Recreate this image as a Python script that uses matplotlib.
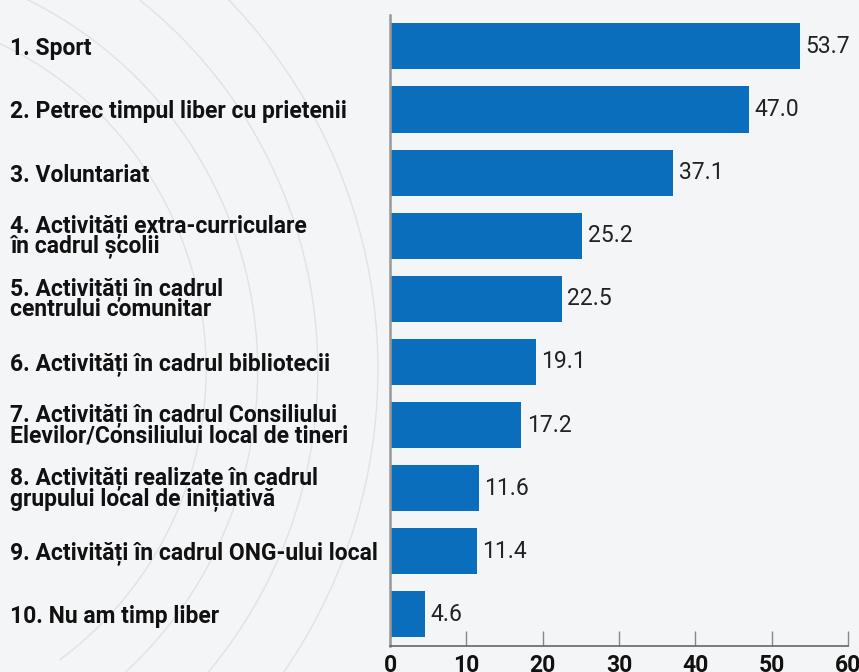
import matplotlib.pyplot as plt
from matplotlib.patches import Arc
from matplotlib.transforms import ScaledTranslation

plt.rcParams['font.family'] = ['Roboto', 'DejaVu Sans']

labels = [
    "1. Sport",
    "2. Petrec timpul liber cu prietenii",
    "3. Voluntariat",
    "4. Activități extra-curriculare\nîn cadrul școlii",
    "5. Activități în cadrul\ncentrului comunitar",
    "6. Activități în cadrul bibliotecii",
    "7. Activități în cadrul Consiliului\nElevilor/Consiliului local de tineri",
    "8. Activități realizate în cadrul\ngrupului local de inițiativă",
    "9. Activități în cadrul ONG-ului local",
    "10. Nu am timp liber",
]
values = [53.7, 47.0, 37.1, 25.2, 22.5, 19.1, 17.2, 11.6, 11.4, 4.6]
xticks = [0, 10, 20, 30, 40, 50, 60]

fig = plt.figure(figsize=(8.59, 6.72), dpi=100)
fig.patch.set_facecolor('#f4f5f7')

# faint background arcs on the left side
aspect = 8.59 / 6.72
for r in [0.42, 0.48, 0.55, 0.62]:
    arc = Arc((-0.18, 0.45), 2 * r, 2 * r * aspect, theta1=-60, theta2=80,
              transform=fig.transFigure, edgecolor='#e0e2e6', lw=1.0, zorder=0)
    fig.patches.append(arc)

ax = fig.add_axes([0.454, 0.0387, 0.533, 0.9393])
ax.set_facecolor('none')
ax.set_zorder(2)

y = list(range(len(values)))
ax.barh(y, values, height=0.73, color='#0a6ebd')
ax.set_ylim(len(values) - 0.5, -0.5)
ax.set_xlim(0, 60)

for yi, v in zip(y, values):
    ax.annotate(f"{v:.1f}", (v, yi), xytext=(4, 0), textcoords='offset points',
                va='center', ha='left', fontsize=16.5, color='#222222')

ax.set_yticks(y)
ax.set_yticklabels(labels, fontsize=16.5, fontweight='bold', color='#111111',
                   ha='left', linespacing=0.8)
ax.tick_params(axis='y', length=0, pad=0)
offset = ScaledTranslation(-380 / 100, 0, fig.dpi_scale_trans)
for t in ax.get_yticklabels():
    t.set_transform(t.get_transform() + offset)

ax.set_xticks(xticks)
ax.set_xticklabels([str(t) for t in xticks], fontsize=16.5, fontweight='bold', color='#111111')
ax.tick_params(axis='x', direction='in', length=11, width=1, color='#888888', pad=6)

for s in ['top', 'right']:
    ax.spines[s].set_visible(False)
ax.spines['left'].set_color('#999999')
ax.spines['left'].set_linewidth(1.8)
ax.spines['bottom'].set_color('#666666')
ax.spines['bottom'].set_linewidth(1.2)

fig.savefig('out.png', dpi=100, facecolor=fig.get_facecolor())
